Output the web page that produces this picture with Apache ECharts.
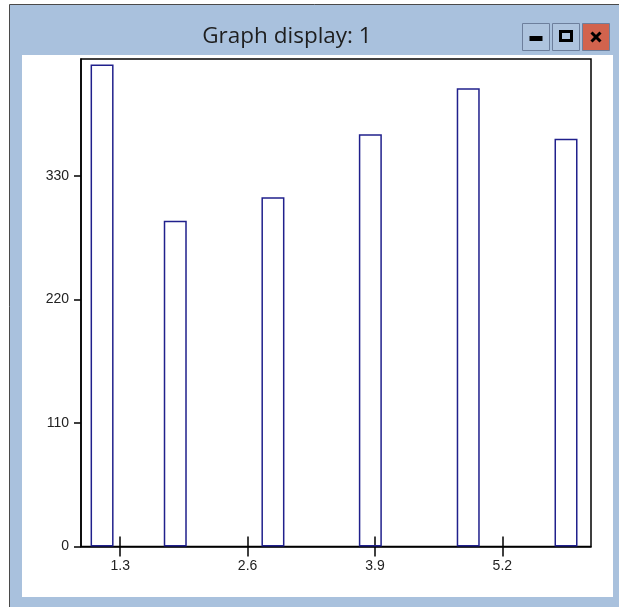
<!DOCTYPE html>
<html>
<head>
<meta charset="utf-8">
<script src="https://cdn.jsdelivr.net/npm/echarts@6/dist/echarts.min.js"></script>
<style>
html,body{margin:0;padding:0;background:#fff;}
#chart{width:619px;height:607px;}
</style>
</head>
<body>
<div id="chart"></div>
<script>
const windowTitle = 'Graph display: 1';
const binCenters = [1.115, 1.862, 2.859, 3.853, 4.852, 5.850];
const binCounts = [429, 290, 311, 367, 408, 363];
const xTickValues = [1.3, 2.6, 3.9, 5.2];
const yTickValues = [0, 110, 220, 330];
const xRange = [0.9, 6.105];
const yRange = [0, 434];

const chart = echarts.init(document.getElementById('chart'), null, {renderer: 'canvas'});
const frameBlue = '#a9c1dd';
const btnStroke = '#6d7f9c';

const option = {
  animation: false,
  backgroundColor: '#ffffff',
  graphic: [
    {type: 'rect', z: -10, silent: true, shape: {x: 9.5, y: 4.5, width: 620, height: 620},
     style: {fill: frameBlue, stroke: '#4a4a4a', lineWidth: 1}},
    {type: 'rect', z: -9, silent: true, shape: {x: 22, y: 55, width: 591, height: 542},
     style: {fill: '#ffffff'}},
    {type: 'text', z: -8, silent: true, x: 287, y: 37,
     style: {text: windowTitle, fill: '#1e1e1e', font: '22.5px "Open Sans", "Noto Sans", sans-serif',
             align: 'center', verticalAlign: 'middle'}},
    // minimize
    {type: 'rect', z: -8, silent: true, shape: {x: 522.5, y: 23.5, width: 27, height: 27},
     style: {fill: '#aec4de', stroke: btnStroke, lineWidth: 1}},
    {type: 'rect', z: -7, silent: true, shape: {x: 529.5, y: 36, width: 13, height: 5},
     style: {fill: '#000'}},
    // maximize
    {type: 'rect', z: -8, silent: true, shape: {x: 552.5, y: 23.5, width: 27, height: 27},
     style: {fill: '#aec4de', stroke: btnStroke, lineWidth: 1}},
    {type: 'rect', z: -7, silent: true, shape: {x: 560.5, y: 31.5, width: 11, height: 9},
     style: {fill: 'none', stroke: '#000', lineWidth: 3}},
    // close
    {type: 'rect', z: -8, silent: true, shape: {x: 582.5, y: 23.5, width: 27, height: 27},
     style: {fill: '#d2634d', stroke: btnStroke, lineWidth: 1}},
    {type: 'line', z: -7, silent: true, shape: {x1: 591.5, y1: 32.5, x2: 600.5, y2: 41.5},
     style: {stroke: '#000', lineWidth: 3}},
    {type: 'line', z: -7, silent: true, shape: {x1: 600.5, y1: 32.5, x2: 591.5, y2: 41.5},
     style: {stroke: '#000', lineWidth: 3}}
  ],
  grid: {
    left: 81, top: 59, right: 28, bottom: 60.5,
    show: true, borderColor: '#000', borderWidth: 1.5, backgroundColor: 'transparent'
  },
  xAxis: [
    {
      type: 'value', min: xRange[0], max: xRange[1], position: 'bottom',
      axisLine: {show: true, onZero: false, lineStyle: {color: '#000', width: 1.5}},
      axisTick: {show: true, inside: false, length: 10, customValues: xTickValues,
                 lineStyle: {color: '#000', width: 1.5}},
      axisLabel: {show: true, customValues: xTickValues, margin: 13, color: '#222',
                  fontFamily: '"Liberation Sans", Arial, sans-serif', fontSize: 14,
                  formatter: v => v.toFixed(1)},
      splitLine: {show: false}
    },
    {
      type: 'value', min: xRange[0], max: xRange[1], position: 'bottom',
      axisLine: {show: false},
      axisTick: {show: true, inside: true, length: 10, customValues: xTickValues,
                 lineStyle: {color: '#000', width: 1.5}},
      axisLabel: {show: false},
      splitLine: {show: false}
    }
  ],
  yAxis: {
    type: 'value', min: yRange[0], max: yRange[1],
    axisLine: {show: true, lineStyle: {color: '#000', width: 1.5}},
    axisTick: {show: true, inside: false, length: 7, customValues: yTickValues,
               lineStyle: {color: '#000', width: 1.5}},
    axisLabel: {show: true, customValues: yTickValues, margin: 12, color: '#222',
                fontFamily: '"Liberation Sans", Arial, sans-serif', fontSize: 14},
    splitLine: {show: false}
  },
  series: [{
    type: 'bar',
    xAxisIndex: 0,
    barWidth: 23,
    data: binCenters.map((x, i) => [x, binCounts[i]]),
    itemStyle: {color: 'rgba(255,255,255,0)', borderColor: '#20208c', borderWidth: 1.5},
    emphasis: {disabled: true},
    z: 1
  }]
};
chart.setOption(option);
</script>
</body>
</html>
